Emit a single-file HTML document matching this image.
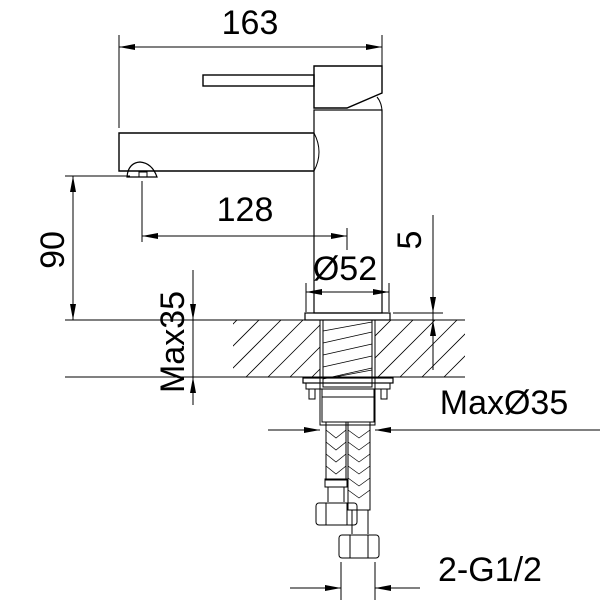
<!DOCTYPE html>
<html><head><style>body{margin:0;background:#fff}svg{display:block}</style></head><body>
<svg width="600" height="600" viewBox="0 0 600 600" xmlns="http://www.w3.org/2000/svg" font-family="Liberation Sans, sans-serif">
<defs>
<clipPath id="c1"><rect x="233" y="320" width="87" height="57"/><rect x="375" y="320" width="90" height="57"/></clipPath>
</defs>
<g stroke="#000" fill="none" stroke-width="1">
<line x1="119" y1="35" x2="119" y2="128"/>
<line x1="382" y1="35" x2="382" y2="70"/>
<line x1="119" y1="47" x2="382" y2="47"/>
<rect x="203" y="75" width="111" height="11" stroke-width="1.4"/>
<path d="M314,66H382V93L347,108H314Z" stroke-width="1.4"/>
<path d="M377,97Q382,103 382,112" />
<rect x="314" y="110" width="68" height="203" stroke-width="1.2"/>
<path d="M314,133H119V171H314" stroke-width="1.4"/>
<path d="M314,133Q324,152 314,171"/>
<path d="M127,177Q128,163 140,162Q152,163 157,177Z" stroke-width="1.2"/>
<rect x="139" y="172" width="8" height="5"/>
<line x1="65" y1="176" x2="130" y2="176"/>
<line x1="142" y1="181" x2="142" y2="242"/>
<line x1="347" y1="228" x2="347" y2="250"/>
<line x1="142" y1="236" x2="347" y2="236"/>
<line x1="65" y1="320" x2="465" y2="320"/>
<line x1="73" y1="176" x2="73" y2="320"/>
<g clip-path="url(#c1)" stroke-width="0.8">
<path d="M180,377l57,-57M202,377l57,-57M224,377l57,-57M246,377l57,-57M268,377l57,-57M290,377l57,-57M312,377l57,-57M334,377l57,-57M356,377l57,-57M378,377l57,-57M400,377l57,-57M422,377l57,-57M444,377l57,-57"/>
</g>
<line x1="65" y1="377" x2="465" y2="377"/>
<rect x="305" y="313" width="85" height="7" stroke-width="1.2"/>
<line x1="306" y1="283" x2="306" y2="312"/>
<line x1="389" y1="283" x2="389" y2="312"/>
<line x1="306" y1="292" x2="389" y2="292"/>
<rect x="320" y="320" width="55" height="105"/>
<rect x="323" y="320" width="49" height="67"/>
<g stroke-width="0.8"><line x1="323" y1="331" x2="372" y2="322"/><line x1="323" y1="343" x2="372" y2="332"/><line x1="323" y1="355" x2="372" y2="344"/><line x1="323" y1="367" x2="372" y2="356"/><line x1="323" y1="379" x2="372" y2="368"/><line x1="335" y1="377" x2="372" y2="370"/></g>
<rect x="303" y="378" width="90" height="5" stroke-width="1.2"/>
<rect x="306" y="383" width="84" height="6"/>
<rect x="322" y="389" width="52" height="8"/>
<path d="M309,389V399h6V389M381,389V399h6V389"/>
<rect x="322" y="397" width="52" height="25"/>
<line x1="393" y1="313" x2="443" y2="313"/>
<line x1="433" y1="215" x2="433" y2="370"/>
<line x1="193" y1="270" x2="193" y2="405"/>
<line x1="268" y1="430" x2="320" y2="430"/>
<line x1="375" y1="430" x2="600" y2="430"/>
<rect x="326" y="422" width="20" height="58"/>
<rect x="348" y="422" width="22" height="88"/>
<g stroke-width="0.7">
<path d="M326,430l10,8l10,-8M326,442l10,8l10,-8M326,454l10,8l10,-8M326,466l10,8l10,-8"/>
<path d="M348,430l11,8l11,-8M348,442l11,8l11,-8M348,454l11,8l11,-8M348,466l11,8l11,-8M348,478l11,8l11,-8M348,490l11,8l11,-8"/>
</g>
<rect x="325" y="479" width="22" height="8"/>
<path d="M328,487V502M344,487V502"/>
<rect x="316" y="503" width="41" height="22" rx="3"/>
<path d="M326,503V525M347,503V525"/>
<path d="M348,510H368V534"/><path d="M352,510V534"/>
<rect x="339" y="535" width="40" height="23" rx="3"/>
<path d="M350,535V558M368,535V558"/>
<line x1="341" y1="562" x2="341" y2="600"/>
<line x1="375" y1="562" x2="375" y2="600"/>
</g>
<g fill="#000">
<path d="M119,47l16,-3v6zM382,47l-16,-3v6z"/>
<path d="M142,236l16,-3v6zM347,236l-16,-3v6z"/>
<path d="M73,176l-3,16h6zM73,320l-3,-16h6z"/>
<path d="M306,292l16,-3v6zM389,292l-16,-3v6z"/>
<path d="M433,313l-3,-16h6zM433,320l-3,16h6z"/>
<path d="M193,320l-3,-16h6zM193,377l-3,16h6z"/>
<path d="M320,430l-16,-3v6zM375,430l16,-3v6z"/>
<path d="M341,588l-16,-3v6zM375,588l16,-3v6z"/>
</g>
<line x1="290" y1="588" x2="341" y2="588" stroke="#000"/>
<line x1="375" y1="588" x2="420" y2="588" stroke="#000"/>
<g font-size="34" fill="#000">
<text x="250" y="34" text-anchor="middle">163</text>
<text x="245" y="221" text-anchor="middle">128</text>
<text x="345" y="280" text-anchor="middle">Ø52</text>
<text x="504" y="414" text-anchor="middle">MaxØ35</text>
<text x="490" y="581" text-anchor="middle">2-G1/2</text>
<text transform="translate(64,250) rotate(-90)" text-anchor="middle">90</text>
<text transform="translate(184,342) rotate(-90)" text-anchor="middle">Max35</text>
<text transform="translate(421,240) rotate(-90)" text-anchor="middle">5</text>
</g>
</svg>
</body></html>
